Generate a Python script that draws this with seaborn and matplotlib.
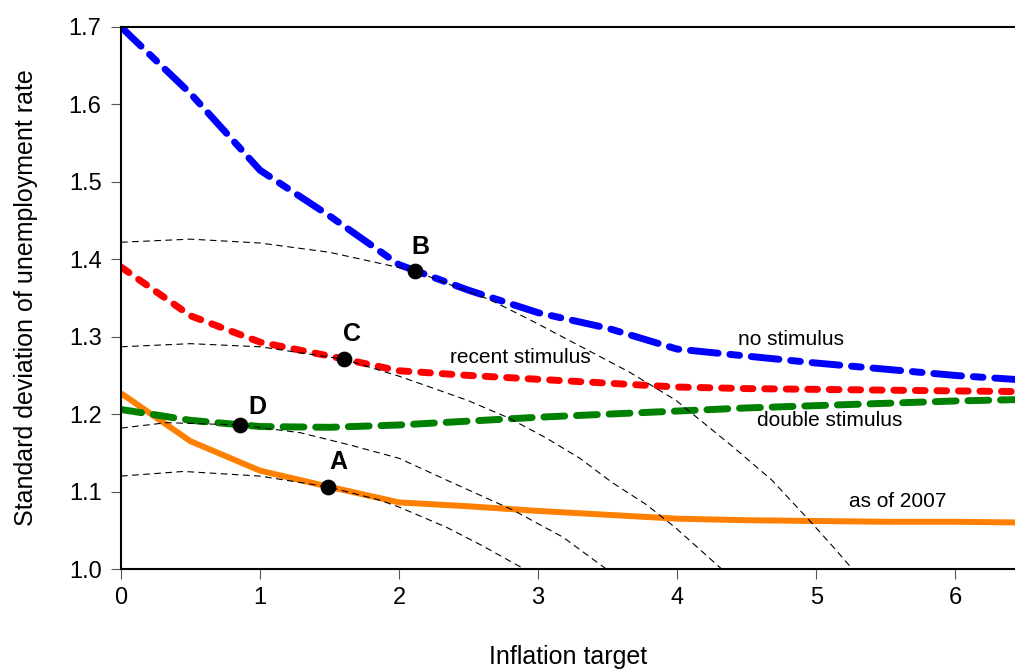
import matplotlib
matplotlib.use("Agg")
import pandas as pd
import matplotlib.pyplot as plt
import seaborn as sns

# Inflation targets where the frontiers were read
inflation = [0, 0.5, 1, 1.5, 2, 2.5, 3, 3.5, 4, 4.5, 5, 5.5, 6, 6.5]

# Std. dev. of unemployment for each policy scenario
no_stimulus = [1.700, 1.614, 1.515, 1.456, 1.393, 1.360, 1.331, 1.311, 1.284,
               1.275, 1.266, 1.258, 1.250, 1.244]
recent_stimulus = [1.390, 1.327, 1.293, 1.275, 1.256, 1.250, 1.245, 1.240, 1.235,
                   1.233, 1.232, 1.231, 1.230, 1.229]
double_stimulus = [1.206, 1.192, 1.184, 1.183, 1.186, 1.191, 1.196, 1.200, 1.204,
                   1.208, 1.211, 1.214, 1.217, 1.219]
as_of_2007 = [1.227, 1.165, 1.127, 1.106, 1.086, 1.081, 1.075, 1.070, 1.065,
              1.063, 1.062, 1.061, 1.061, 1.060]

# Indifference curves (thin dashed), one through each chosen point
curve_a_x = [0, 0.45, 1.0, 1.49, 1.86, 2.0, 2.34, 2.6, 2.9]
curve_a_y = [1.120, 1.126, 1.120, 1.106, 1.089, 1.080, 1.054, 1.030, 1.000]
curve_b_x = [0, 0.5, 1.0, 1.5, 2.11, 2.34, 2.65, 2.94, 3.3, 3.66, 3.99, 4.4, 4.68, 4.95, 5.14, 5.26]
curve_b_y = [1.422, 1.426, 1.421, 1.409, 1.385, 1.369, 1.348, 1.322, 1.288, 1.254, 1.218,
             1.158, 1.115, 1.063, 1.025, 1.000]
curve_c_x = [0, 0.5, 1.0, 1.6, 2.0, 2.49, 2.79, 3.06, 3.3, 3.53, 3.78, 3.99, 4.32]
curve_c_y = [1.287, 1.291, 1.287, 1.271, 1.249, 1.218, 1.195, 1.169, 1.143, 1.112, 1.083,
             1.053, 1.000]
curve_d_x = [0, 0.33, 0.855, 1.29, 1.65, 2.0, 2.34, 2.82, 3.18, 3.49]
curve_d_y = [1.182, 1.189, 1.186, 1.176, 1.160, 1.143, 1.115, 1.076, 1.041, 1.000]

# Optimal points
point_labels = ["A", "B", "C", "D"]
point_x = [1.489, 2.112, 1.602, 0.855]
point_y = [1.106, 1.385, 1.271, 1.186]

sns.set_theme(style="ticks")
plt.rcParams["font.family"] = ["Liberation Sans", "DejaVu Sans"]
plt.rcParams["text.color"] = "black"
plt.rcParams["axes.labelcolor"] = "black"

fig = plt.figure(figsize=(10.15, 6.71), dpi=100)
ax = fig.add_axes([0.1192, 0.152, 0.8808, 0.8078])

# === frontiers ===
round_caps = dict(dash_capstyle="round", solid_capstyle="round")
sns.lineplot(x=inflation, y=as_of_2007, ax=ax, color="#ff8000", lw=4.3,
             solid_capstyle="butt")
sns.lineplot(x=inflation, y=double_stimulus, ax=ax, color="#008000", lw=5,
             linestyle=(0, (3.0, 1.7)), **round_caps)
sns.lineplot(x=inflation, y=recent_stimulus, ax=ax, color="#ff0000", lw=5,
             linestyle=(0, (1.4, 1.7)), **round_caps)
sns.lineplot(x=inflation, y=no_stimulus, ax=ax, color="#0000ff", lw=5,
             linestyle=(0, (4.0, 1.7, 1.4, 1.7)), **round_caps)

# === indifference curves ===
for cx, cy in [(curve_a_x, curve_a_y), (curve_b_x, curve_b_y),
               (curve_c_x, curve_c_y), (curve_d_x, curve_d_y)]:
    sns.lineplot(x=cx, y=cy, ax=ax, sort=False, color="black", lw=0.8,
                 linestyle=(0, (6, 4)))

# === chosen points ===
sns.scatterplot(x=point_x, y=point_y, ax=ax, color="black", s=110,
                edgecolor="black", zorder=5)
label_pos = {"A": (1.561, 1.138), "B": (2.152, 1.4155),
             "C": (1.662, 1.3035), "D": (0.979, 1.209)}
for lab in point_labels:
    ax.text(*label_pos[lab], lab, fontsize=18, fontweight="bold",
            ha="center", va="center", color="black")

# === series labels ===
ax.text(4.818, 1.2967, "no stimulus", fontsize=15, ha="center", va="center")
ax.text(2.876, 1.2734, "recent stimulus", fontsize=15, ha="center", va="center")
ax.text(5.098, 1.1924, "double stimulus", fontsize=15, ha="center", va="center")
ax.text(5.587, 1.0878, "as of 2007", fontsize=15, ha="center", va="center")

ax.set_xlim(0, 6.43)
ax.set_ylim(1.0, 1.7)
ax.set_xticks(range(0, 7))
ax.set_yticks([1.0, 1.1, 1.2, 1.3, 1.4, 1.5, 1.6, 1.7])
ax.set_yticklabels(["1.0", "1.1", "1.2", "1.3", "1.4", "1.5", "1.6", "1.7"])

ax.tick_params(direction="out", length=7, width=0.8, color="#555555",
               labelsize=17, labelcolor="black")
ax.tick_params(axis="y", pad=7)
ax.tick_params(axis="x", pad=6)

for side in ["left", "bottom", "top"]:
    ax.spines[side].set_visible(True)
    ax.spines[side].set_linewidth(1.5)
    ax.spines[side].set_color("black")
ax.spines["right"].set_visible(False)

ax.set_xlabel("Inflation target", fontsize=18, labelpad=26)
ax.set_ylabel("Standard deviation of unemployment rate", fontsize=18,
              labelpad=22)

fig.savefig("out.png", dpi=100)
